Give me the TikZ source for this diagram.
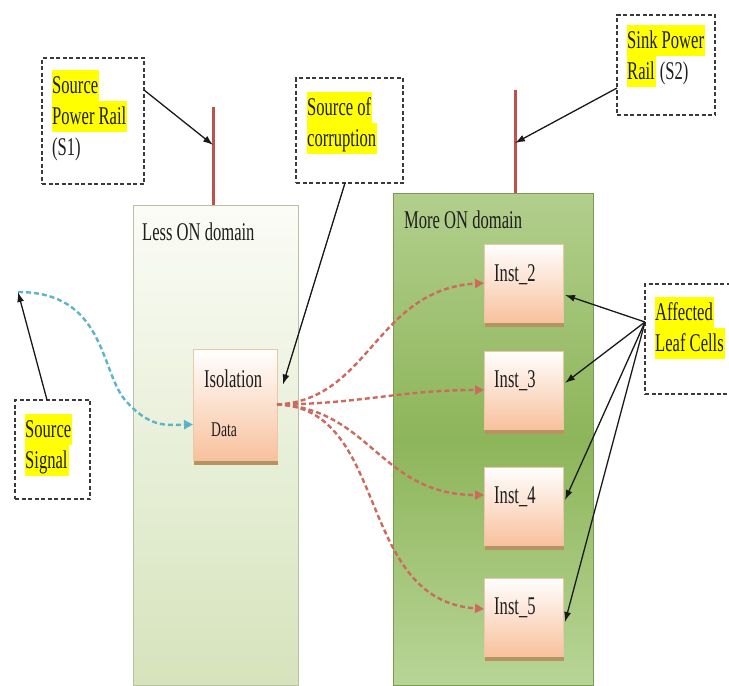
\documentclass[tikz,border=0pt]{standalone}
\usepackage{fontspec}
\setmainfont[FakeStretch=0.65]{Liberation Serif}
\usetikzlibrary{arrows.meta,calc,shadows}

\definecolor{hlyellow}{HTML}{FFFF00}
\definecolor{dashc}{HTML}{3A3A3A}
\definecolor{txtc}{HTML}{1E1E1E}
\definecolor{railc}{HTML}{C0504D}
\definecolor{lesstop}{HTML}{FBFCF6}
\definecolor{lessbot}{HTML}{D6E3BC}
\definecolor{lessborder}{HTML}{B8C1A2}
\definecolor{moretop}{HTML}{B2CF8C}
\definecolor{moremid}{HTML}{8DB55A}
\definecolor{morebot}{HTML}{B8D597}
\definecolor{moreborder}{HTML}{7A9A52}
\definecolor{peach}{HTML}{F8C19D}
\definecolor{instborder}{HTML}{EDC6A8}
\definecolor{instshadow}{HTML}{B8925F}
\definecolor{redflow}{HTML}{CC6A5E}
\definecolor{blueflow}{HTML}{5DB4C9}
\definecolor{bluetip}{HTML}{3EA8C0}

% highlighted line and plain line, both with a full-height strut
\newcommand\hl[1]{{\setlength\fboxsep{0pt}\colorbox{hlyellow}{\rule[-8pt]{0pt}{31pt}#1\kern1pt}}}
\newcommand\plainline[1]{\rule[-8pt]{0pt}{31pt}#1}

\begin{document}
\begin{tikzpicture}[x=1pt,y=-1pt,
  dbox/.style={rectangle, draw=dashc, line width=1.5pt, dash pattern=on 4pt off 2.5pt,
               inner sep=0pt, outer sep=0pt, anchor=north west},
  txt/.style={font=\fontsize{25.5}{31}\selectfont, text=txtc, inner sep=0pt, align=left},
  rail/.style={draw=railc, line width=3pt},
  blk/.style={draw=black!90, line width=1.3pt, -{Latex[length=10pt,width=7pt]}},
  inst/.style={rectangle, draw=instborder, line width=0.6pt, top color=white, bottom color=peach,
               minimum width=79pt, minimum height=78pt, anchor=north west, inner sep=0pt, outer sep=0pt,
               general shadow={fill=instshadow, shadow xshift=1pt, shadow yshift=-5pt}},
  flow/.style={draw=redflow, line width=2.4pt, dash pattern=on 5pt off 3pt,
               -{Triangle[length=9pt,width=9pt]}},
  sigflow/.style={draw=blueflow, line width=2.4pt, dash pattern=on 5pt off 3pt,
               -{Triangle[length=9pt,width=9pt,fill=bluetip]}}
]
\useasboundingbox (0,0) rectangle (729,686);
\clip (0,0) rectangle (729,686);

% power domains
\node[rectangle, draw=lessborder, line width=1pt, top color=lesstop, bottom color=lessbot,
      minimum width=165pt, minimum height=480pt, anchor=north west, inner sep=0pt, outer sep=0pt]
      (less) at (133,205) {};
\node[rectangle, draw=moreborder, line width=1pt, top color=moretop, bottom color=morebot, middle color=moremid,
      minimum width=200pt, minimum height=492pt, anchor=north west, inner sep=0pt, outer sep=0pt]
      (more) at (393,193) {};
\node[txt, anchor=base west] (lesst) at (142,240) {Less ON domain};
\node[txt, anchor=base west] (moret) at (404,228) {More ON domain};

% supply rails
\coordinate (r1) at (213,107);
\coordinate (r2) at (515,90);
\draw[rail] (r1) -- (r1 |- less.north);
\draw[rail] (r2) -- (r2 |- more.north);
\coordinate (r1hit) at ($(r1)+(0,38)$);
\coordinate (r2hit) at ($(r2)+(0,53)$);

% isolation cell
\node[inst, minimum width=84pt, minimum height=111pt] (iso) at (193,349) {};
\node[txt, anchor=base west] (isot) at (204,387) {Isolation};
\node[txt, font=\fontsize{21}{24}\selectfont, anchor=base west] (isod) at (211,436) {Data};

% leaf cells
\node[inst] (i2) at (484,244) {};
\node[inst] (i3) at (484,351) {};
\node[inst] (i4) at (484,467) {};
\node[inst] (i5) at (484,578) {};
\node[txt, anchor=base west] (i2t) at ($(i2.north west)+(10,37)$) {Inst\_2};
\node[txt, anchor=base west] (i3t) at ($(i3.north west)+(10,36)$) {Inst\_3};
\node[txt, anchor=base west] (i4t) at ($(i4.north west)+(10,36)$) {Inst\_4};
\node[txt, anchor=base west] (i5t) at ($(i5.north west)+(10,36)$) {Inst\_5};

% callout boxes
\node[dbox, minimum width=102pt, minimum height=126pt] (spr) at (42,58) {};
\node[txt, anchor=north west] (sprt) at (52,70) {\hl{Source}\\\hl{Power Rail}\\\plainline{(S1)}};

\node[dbox, minimum width=107pt, minimum height=105pt] (scb) at (296,78) {};
\node[txt, anchor=north west] (scbt) at (307,92) {\hl{Source of}\\\hl{corruption}};

\node[dbox, minimum width=98pt, minimum height=100pt] (sink) at (617,15) {};
\node[txt, anchor=north west] (sinkt) at (627,25) {\hl{Sink Power}\\\hl{Rail}\plainline{ (S2)}};

\node[dbox, minimum width=75pt, minimum height=99pt] (ss) at (15,400) {};
\node[txt, anchor=north west] (sst) at (25,414) {\hl{Source}\\\hl{Signal}};

\node[dbox, minimum width=95pt, minimum height=110pt] (alc) at (645,284) {};
\node[txt, anchor=north west] (alct) at (655,297) {\hl{Affected}\\\hl{Leaf Cells}};

% signal path into the isolation cell
\coordinate (sigsrc) at (18,292);
\draw[sigflow] (sigsrc) .. controls (105,292) and (100,370) .. (125,400)
               .. controls (150,428) and (165,425) .. ($(iso.west)+(0,20)$);

% corrupted fan-out into the leaf cells
\draw[flow] (iso.east) .. controls (370,400) and (375,290) .. (i2.west);
\draw[flow] (iso.east) .. controls (360,404) and (400,390) .. (i3.west);
\draw[flow] (iso.east) .. controls (370,408) and (380,495) .. ($(i4.west)+(0,-11)$);
\draw[flow] (iso.east) .. controls (390,408) and (355,600) .. ($(i5.west)+(0,-8)$);

% callout pointers
\draw[blk] ($(spr.north east)+(0,32)$) -- (r1hit);
\draw[blk] ($(sink.north west)+(0,73)$) -- (r2hit);
\coordinate (corrtip) at ($(iso.east)+(6,-20)$);
\draw[blk] ($(scb.south west)+(49,0)$) -- (corrtip);
\draw[blk] ($(ss.north west)+(32,0)$) -- (sigsrc);
\coordinate (alcp) at ($(alc.north west)+(0,38)$);
\draw[blk] (alcp) -- ($(i2.east)+(2,12)$);
\draw[blk] (alcp) -- ($(i3.east)+(2,-7)$);
\draw[blk] (alcp) -- ($(i4.east)+(2,-6)$);
\draw[blk] (alcp) -- ($(i5.east)+(2,5)$);
\end{tikzpicture}
\end{document}
